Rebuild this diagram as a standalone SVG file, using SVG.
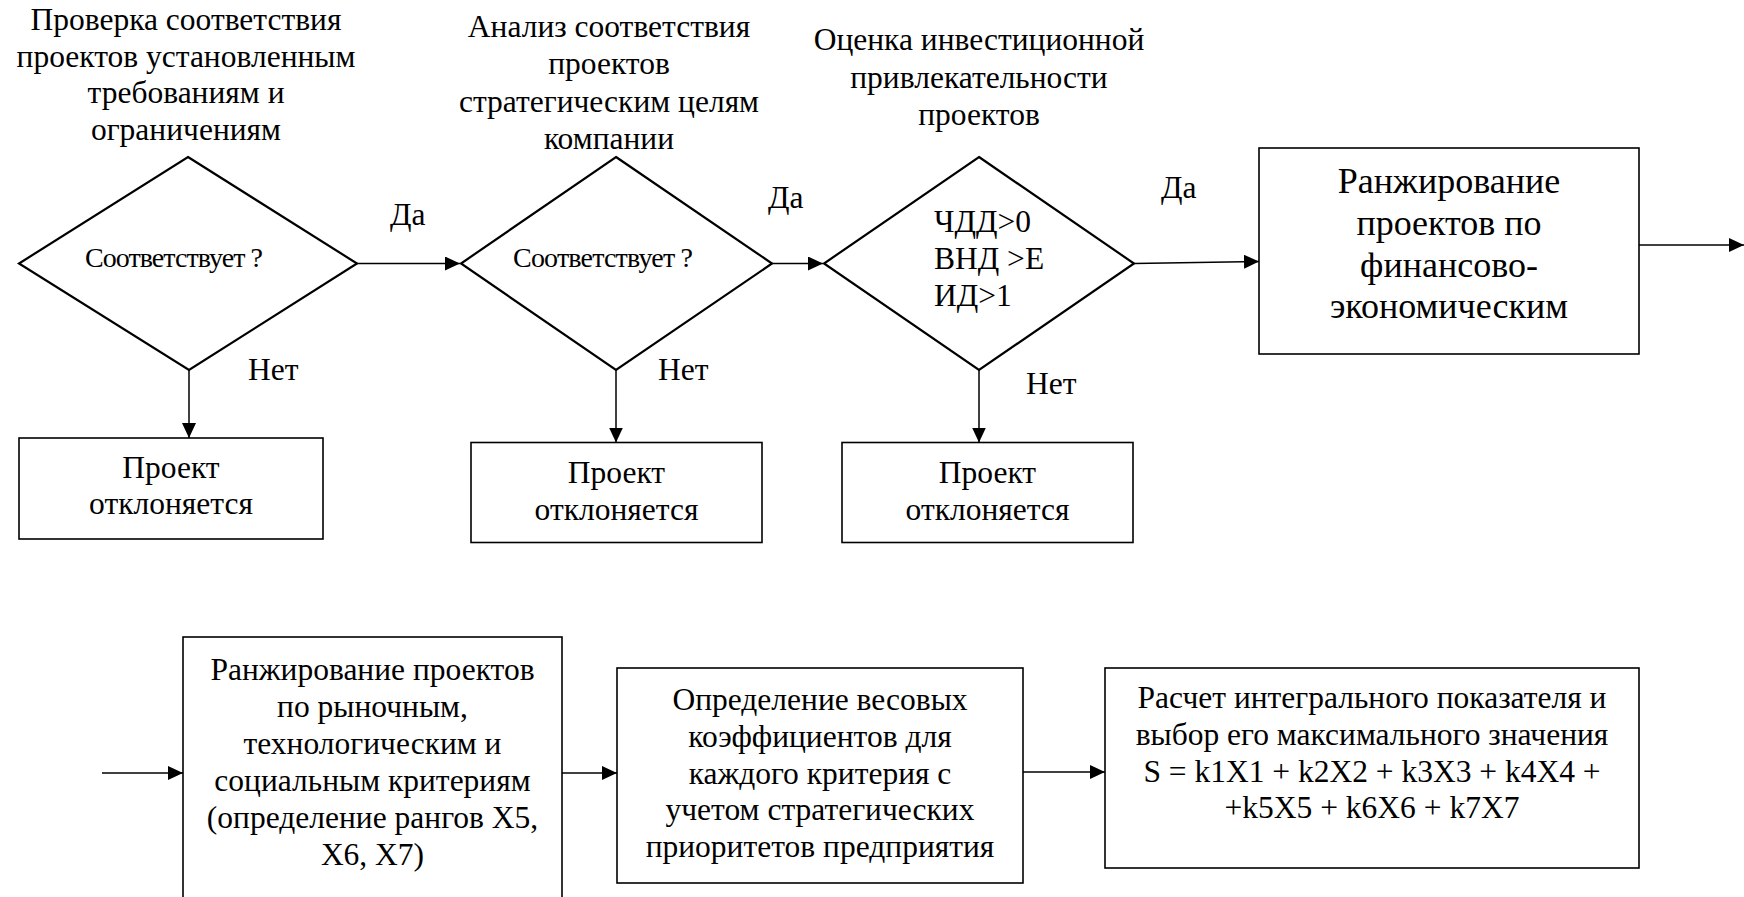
<svg xmlns="http://www.w3.org/2000/svg" width="1744" height="897" viewBox="0 0 1744 897">
<style>
text{font-family:'Liberation Serif','Times New Roman',serif;fill:#000;font-size:31.5px}
.c{text-anchor:middle}
.big{font-size:36px}
.q{font-size:28px}
.dia{fill:#fff;stroke:#000;stroke-width:2.2}
.box{fill:#fff;stroke:#000;stroke-width:1.6}
.ln{fill:none;stroke:#000;stroke-width:1.5}
</style>
<defs>
<marker id="ah" markerUnits="userSpaceOnUse" markerWidth="16" markerHeight="14" refX="15" refY="7" orient="auto">
<path d="M0,0 L15,7 L0,14 z" fill="#000"/>
</marker>
</defs>
<rect width="1744" height="897" fill="#fff"/>

<g id="title1">
<text class="c" x="186" y="30">Проверка соответствия</text>
<text class="c" x="186" y="66.5">проектов установленным</text>
<text class="c" x="186" y="103">требованиям и</text>
<text class="c" x="186" y="140">ограничениям</text>
</g>
<g id="title2">
<text class="c" x="609" y="37">Анализ соответствия</text>
<text class="c" x="609" y="74.3">проектов</text>
<text class="c" x="609" y="111.6">стратегическим целям</text>
<text class="c" x="609" y="149">компании</text>
</g>
<g id="title3">
<text class="c" x="979" y="50">Оценка инвестиционной</text>
<text class="c" x="979" y="87.5">привлекательности</text>
<text class="c" x="979" y="125">проектов</text>
</g>

<g id="decision1">
<polygon class="dia" points="188,157 357,263.5 189,370 19,263.5"/>
<text class="q" x="85" y="267" textLength="178">Соответствует ?</text>
</g>
<g id="decision2">
<polygon class="dia" points="616,157 772,263.5 616,370 461,263.5"/>
<text class="q" x="513" y="267" textLength="180">Соответствует ?</text>
</g>
<g id="decision3">
<polygon class="dia" points="979,157 1134,263.5 979,370 824,263.5"/>
<text x="934" y="232">ЧДД&gt;0</text>
<text x="934" y="269">ВНД &gt;Е</text>
<text x="934" y="306">ИД&gt;1</text>
</g>

<g id="reject1">
<rect class="box" x="19" y="438" width="304" height="101"/>
<text class="c" x="171" y="478">Проект</text>
<text class="c" x="171" y="514">отклоняется</text>
</g>
<g id="reject2">
<rect class="box" x="471" y="442.5" width="291" height="100"/>
<text class="c" x="616.5" y="483">Проект</text>
<text class="c" x="616.5" y="519.5">отклоняется</text>
</g>
<g id="reject3">
<rect class="box" x="842" y="442.5" width="291" height="100"/>
<text class="c" x="987.5" y="483">Проект</text>
<text class="c" x="987.5" y="519.5">отклоняется</text>
</g>

<g id="rank-fin">
<rect class="box" x="1259" y="148" width="380" height="206"/>
<text class="c big" x="1449" y="193">Ранжирование</text>
<text class="c big" x="1449" y="234.5">проектов по</text>
<text class="c big" x="1449" y="276.5">финансово-</text>
<text class="c big" x="1449" y="318">экономическим</text>
</g>

<g id="rank-market">
<rect class="box" x="183" y="637" width="379" height="290"/>
<text class="c" x="372.5" y="680">Ранжирование проектов</text>
<text class="c" x="372.5" y="717">по рыночным,</text>
<text class="c" x="372.5" y="754">технологическим и</text>
<text class="c" x="372.5" y="791">социальным критериям</text>
<text class="c" x="372.5" y="828">(определение рангов X5,</text>
<text class="c" x="372.5" y="865">X6, X7)</text>
</g>

<g id="weights">
<rect class="box" x="617" y="668" width="406" height="215"/>
<text class="c" x="820" y="710">Определение весовых</text>
<text class="c" x="820" y="747">коэффициентов для</text>
<text class="c" x="820" y="783.5">каждого критерия с</text>
<text class="c" x="820" y="820">учетом стратегических</text>
<text class="c" x="820" y="857">приоритетов предприятия</text>
</g>

<g id="integral">
<rect class="box" x="1105" y="668" width="534" height="200"/>
<text class="c" x="1372" y="707.5">Расчет интегрального показателя и</text>
<text class="c" x="1372" y="744.5">выбор его максимального значения</text>
<text class="c" x="1372" y="781.5">S = k1X1 + k2X2 + k3X3 + k4X4 +</text>
<text class="c" x="1372" y="818">+k5X5 + k6X6 + k7X7</text>
</g>

<g id="connectors">
<line class="ln" x1="357" y1="263.5" x2="460" y2="263.5" marker-end="url(#ah)"/>
<line class="ln" x1="772" y1="263.5" x2="823" y2="263.5" marker-end="url(#ah)"/>
<line class="ln" x1="1134" y1="263.5" x2="1259" y2="261.5" marker-end="url(#ah)"/>
<line class="ln" x1="1639" y1="245" x2="1744" y2="245" marker-end="url(#ah)"/>
<line class="ln" x1="189" y1="370" x2="189" y2="438" marker-end="url(#ah)"/>
<line class="ln" x1="616" y1="370" x2="616" y2="442.5" marker-end="url(#ah)"/>
<line class="ln" x1="979" y1="370" x2="979" y2="442.5" marker-end="url(#ah)"/>
<line class="ln" x1="102" y1="773" x2="183" y2="773" marker-end="url(#ah)"/>
<line class="ln" x1="562" y1="773" x2="617" y2="773" marker-end="url(#ah)"/>
<line class="ln" x1="1023" y1="772" x2="1105" y2="772" marker-end="url(#ah)"/>
<text x="390" y="225">Да</text>
<text x="768" y="208">Да</text>
<text x="1161" y="198">Да</text>
<text x="248" y="380">Нет</text>
<text x="658" y="380">Нет</text>
<text x="1026" y="394">Нет</text>
</g>
</svg>
